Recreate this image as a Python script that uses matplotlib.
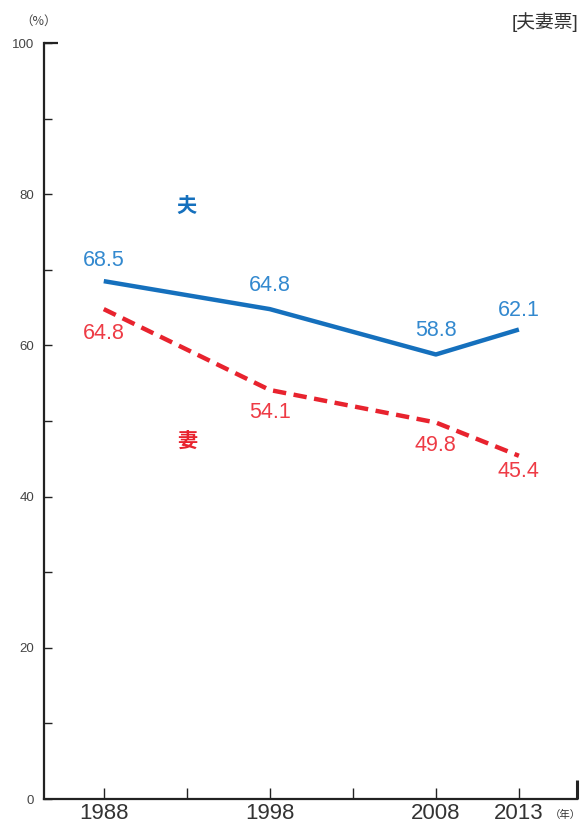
import matplotlib.pyplot as plt
from matplotlib.ticker import MultipleLocator

plt.rcParams['font.family'] = ['Liberation Sans', 'Noto Sans CJK JP', 'DejaVu Sans']

years = [1988, 1998, 2008, 2013]
husband = [68.5, 64.8, 58.8, 62.1]
wife = [64.8, 54.1, 49.8, 45.4]
husband_dy = [21, 24, 24, 19]
wife_dy = [-24, -22, -23, -16]

blue_line = '#1570bd'
blue_text = '#3389cf'
red_line = '#e8232e'
red_text = '#ee3b45'
axis_c = '#222222'

fig = plt.figure(figsize=(5.83, 8.30), dpi=100)
ax = fig.add_axes([44 / 583, 31 / 830, 533 / 583, 756 / 830])

ax.plot(years, husband, color=blue_line, lw=3.2, solid_capstyle='butt')
ax.plot(years, wife, color=red_line, lw=3.2, dashes=(3.0, 1.7))

for x, y, dy in zip(years, husband, husband_dy):
    ax.annotate(f'{y:.1f}', (x, y), xytext=(0, dy), textcoords='offset pixels',
                ha='center', va='center', fontsize=15.5, color=blue_text)
for x, y, dy in zip(years, wife, wife_dy):
    ax.annotate(f'{y:.1f}', (x, y), xytext=(0, dy), textcoords='offset pixels',
                ha='center', va='center', fontsize=15.5, color=red_text)

ax.text(1993, 78.5, '夫', color=blue_line, fontsize=14.5, fontweight='bold',
        ha='center', va='center', family=['Noto Sans CJK JP'])
ax.text(1993, 47.5, '妻', color=red_line, fontsize=14.5, fontweight='bold',
        ha='center', va='center', family=['Noto Sans CJK JP'])

ax.set_xlim(1984.4, 2016.5)
ax.set_ylim(0, 100)

for s in ['top', 'right']:
    ax.spines[s].set_visible(False)
for s in ['left', 'bottom']:
    ax.spines[s].set_linewidth(1.6)
    ax.spines[s].set_color(axis_c)

ax.yaxis.set_major_locator(MultipleLocator(20))
ax.yaxis.set_minor_locator(MultipleLocator(10))
ax.set_xticks([1988, 1993, 1998, 2003, 2008, 2013])
ax.set_xticklabels(['1988', '', '1998', '', '2008', '2013'])
ax.tick_params(axis='y', which='both', direction='in', length=6, width=1,
               color=axis_c, labelsize=9.5, labelcolor='#444444', pad=7)
ax.tick_params(axis='x', direction='in', length=8, width=1, color=axis_c,
               labelsize=16, labelcolor='#333333', pad=3)

# top cap on the y axis and end mark on the x axis
ax.plot([0, 14 / 533], [1, 1], transform=ax.transAxes, color=axis_c,
        lw=1.6, clip_on=False, solid_capstyle='butt')
ax.plot([1, 1], [0, 19 / 756], transform=ax.transAxes, color=axis_c,
        lw=2.2, clip_on=False, solid_capstyle='butt')

fig.text(39 / 583, 1 - 21 / 830, '（%）', fontsize=9, color='#444444',
         ha='center', va='center', family=['Noto Sans CJK JP'])
fig.text(578 / 583, 1 - 22 / 830, '[夫妻票]', fontsize=13.5, color='#333333',
         ha='right', va='center')
fig.text(581 / 583, 1 - 815 / 830, '（年）', fontsize=7.5, color='#333333',
         ha='right', va='center', family=['Noto Sans CJK JP'])

fig.savefig('out.png', dpi=100)
